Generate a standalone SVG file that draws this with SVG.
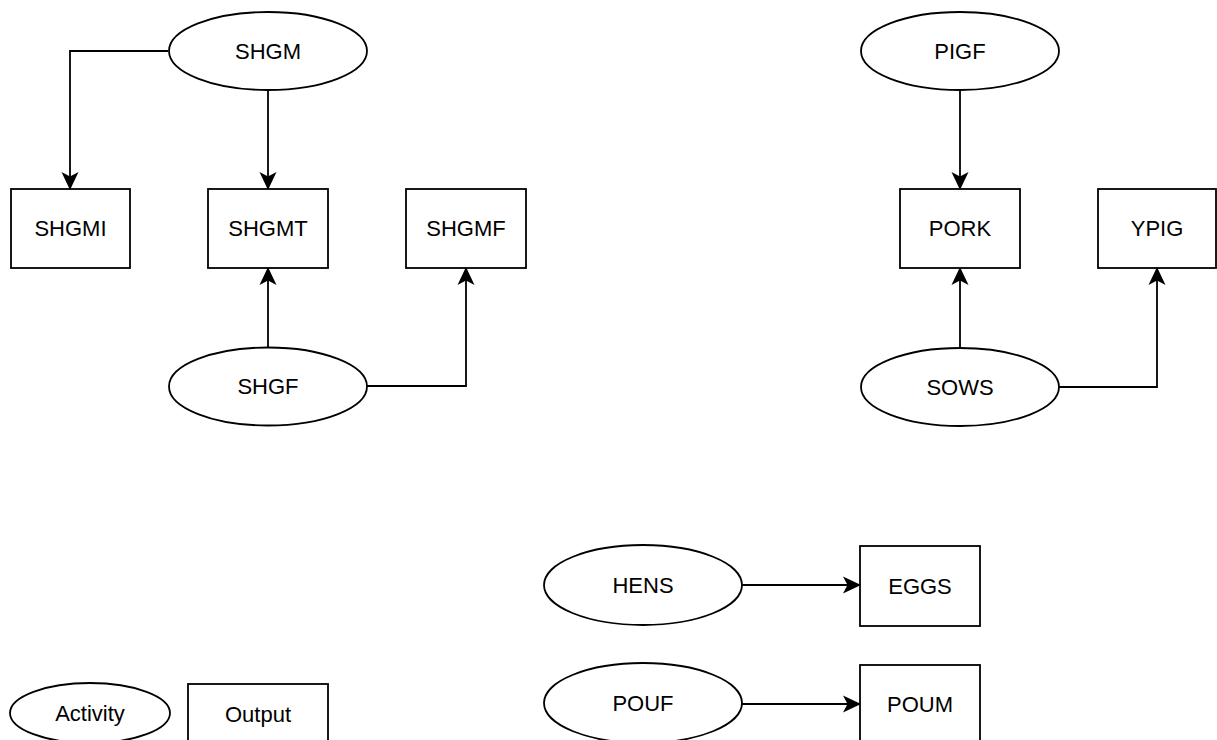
<svg xmlns="http://www.w3.org/2000/svg" width="1217" height="740" viewBox="0 0 1217 740">
  <style>
    .act { fill: #ffffff; stroke: #000000; stroke-width: 1.8; }
    .out { fill: #ffffff; stroke: #000000; stroke-width: 1.8; }
    .lbl { font-family: "Liberation Sans", Arial, sans-serif; font-size: 22px; fill: #000000; text-anchor: middle; dominant-baseline: central; }
    .edge { fill: none; stroke: #000000; stroke-width: 1.8; marker-end: url(#arrow); }
  </style>
  <defs>
    <marker id="arrow" viewBox="0 0 18 18" refX="17" refY="9" markerWidth="18" markerHeight="18" markerUnits="userSpaceOnUse" orient="auto">
      <path d="M18,9 L0,0.5 L4.5,9 L0,17.5 Z" fill="#000000"/>
    </marker>
  </defs>
  <rect width="1217" height="740" fill="#ffffff"/>

  <!-- connectors -->
  <g id="connectors">
    <path class="edge" d="M168,51 H70 V189"/>
    <path class="edge" d="M268,90 V189"/>
    <path class="edge" d="M268,347 V268"/>
    <path class="edge" d="M367,386 H466 V268"/>
    <path class="edge" d="M960,90 V189"/>
    <path class="edge" d="M960,348 V268"/>
    <path class="edge" d="M1059,387 H1157 V268"/>
    <path class="edge" d="M742,585 H860"/>
    <path class="edge" d="M742,704 H860"/>
  </g>

  <!-- sheep / goat group -->
  <g id="SHGM"><ellipse class="act" cx="268" cy="51" rx="99" ry="39"/><text class="lbl" x="268" y="51">SHGM</text></g>
  <g id="SHGMI"><rect class="out" x="11" y="189" width="119" height="79"/><text class="lbl" x="70.5" y="228.5">SHGMI</text></g>
  <g id="SHGMT"><rect class="out" x="208" y="189" width="120" height="79"/><text class="lbl" x="268" y="228.5">SHGMT</text></g>
  <g id="SHGMF"><rect class="out" x="406" y="189" width="120" height="79"/><text class="lbl" x="466" y="228.5">SHGMF</text></g>
  <g id="SHGF"><ellipse class="act" cx="268" cy="386.5" rx="99" ry="39"/><text class="lbl" x="268" y="386.5">SHGF</text></g>

  <!-- pig group -->
  <g id="PIGF"><ellipse class="act" cx="960" cy="51" rx="99" ry="39"/><text class="lbl" x="960" y="51">PIGF</text></g>
  <g id="PORK"><rect class="out" x="900" y="189" width="120" height="79"/><text class="lbl" x="960" y="228.5">PORK</text></g>
  <g id="YPIG"><rect class="out" x="1098" y="189" width="118" height="79"/><text class="lbl" x="1157" y="228.5">YPIG</text></g>
  <g id="SOWS"><ellipse class="act" cx="960" cy="387" rx="99" ry="39"/><text class="lbl" x="960" y="387">SOWS</text></g>

  <!-- poultry group -->
  <g id="HENS"><ellipse class="act" cx="643" cy="585" rx="99" ry="40"/><text class="lbl" x="643" y="585">HENS</text></g>
  <g id="EGGS"><rect class="out" x="860" y="546" width="120" height="80"/><text class="lbl" x="920" y="586">EGGS</text></g>
  <g id="POUF"><ellipse class="act" cx="643" cy="703" rx="99" ry="40"/><text class="lbl" x="643" y="703">POUF</text></g>
  <g id="POUM"><rect class="out" x="860" y="665" width="120" height="80"/><text class="lbl" x="920" y="704">POUM</text></g>

  <!-- legend -->
  <g id="legend-activity"><ellipse class="act" cx="90" cy="713" rx="80" ry="30"/><text class="lbl" x="90" y="713">Activity</text></g>
  <g id="legend-output"><rect class="out" x="188" y="684" width="140" height="60"/><text class="lbl" x="258" y="714">Output</text></g>
</svg>
